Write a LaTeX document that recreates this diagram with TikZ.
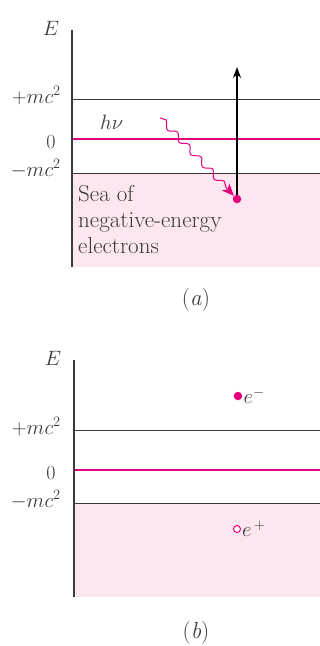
\documentclass[tikz,border=0pt]{standalone}
\usepackage{fontspec}
\usetikzlibrary{arrows.meta,decorations.pathmorphing}
\definecolor{diracInk}{HTML}{3A3A3A}
\definecolor{diracMagenta}{HTML}{E5007D}
\definecolor{diracSeaFill}{HTML}{FCE6EF}
\tikzset{
  diracLevel/.style={draw=diracInk,line width=1pt},
  diracZero/.style={draw=diracMagenta,line width=2.2pt},
  diracSea/.style={fill=diracSeaFill},
  diracAxis/.style={draw=diracInk,line width=1.2pt}
}

\begin{document}
\begin{tikzpicture}[x=1pt,y=-1pt,
  lbl/.style={inner sep=0pt,font=\fontsize{20}{24}\selectfont,text=diracInk},
  elec/.style={circle,fill=diracMagenta,inner sep=0pt,minimum size=8.5pt},
  hole/.style={circle,draw=diracMagenta,fill=white,line width=1pt,inner sep=0pt,minimum size=7pt},
  arrow/.style={-{Stealth[length=11pt,width=8pt]},line width=2pt,draw=black},
  photon/.style={-{Stealth[length=12pt,width=10pt,inset=3pt]},draw=diracMagenta,line width=1pt,
    decorate,decoration={snake,amplitude=3pt,segment length=17pt,post length=10pt}}]
\useasboundingbox (0,0) rectangle (320,646);
% (a) pair creation by a photon
\fill[diracSea] (72,173) rectangle (320,267);
\draw[diracLevel] (72,99) -- (320,99);
\draw[diracZero] (72,139) -- (320,139);
\draw[diracLevel] (72,173) -- (320,173);
\draw[diracAxis] (72,30) -- (72,267);
\node[lbl,anchor=base] (aE) at (51,35) {$E$};
\node[lbl,anchor=base east] (aPlus) at (61,103) {$+mc^2$};
\node[lbl,anchor=base,font=\fontsize{20}{24}\selectfont] (aZero) at (51,148) {0};
\node[lbl,anchor=base east] (aMinus) at (61,176) {$-mc^2$};
\node[lbl,anchor=base west] (aHnu) at (100,129) {$h\nu$};
\node[lbl,anchor=north west,align=left,font=\fontsize{23}{26}\selectfont] (aSea) at (78,185)
  {Sea of\\negative-energy\\electrons};
\node[elec] (aElec) at (237,199) {};
\coordinate (aTip) at (237,67);
\coordinate (aPhotonStart) at (160,118);
\draw[arrow] (aElec) -- (aTip);
\draw[photon] (aPhotonStart) -- (aElec);
\node[lbl,font=\fontsize{23}{26}\selectfont] (aCap) at (196,300) {(\textit{a})};
% (b) electron and hole
\fill[diracSea] (74,503) rectangle (320,597);
\draw[diracLevel] (74,430) -- (320,430);
\draw[diracZero] (74,470) -- (320,470);
\draw[diracLevel] (74,503) -- (320,503);
\draw[diracAxis] (74,360) -- (74,597);
\node[lbl,anchor=base] (bE) at (53,365) {$E$};
\node[lbl,anchor=base east] (bPlus) at (61,434) {$+mc^2$};
\node[lbl,anchor=base,font=\fontsize{20}{24}\selectfont] (bZero) at (51,479) {0};
\node[lbl,anchor=base east] (bMinus) at (61,507) {$-mc^2$};
\node[elec] (bElec) at (238,396) {};
\node[lbl,anchor=west] (bElecLbl) at ([xshift=1pt]bElec.east) {$e^-$};
\node[hole] (bHole) at (237,529) {};
\node[lbl,anchor=west] (bHoleLbl) at ([xshift=1pt]bHole.east) {$e^{\,+}$};
\node[lbl,font=\fontsize{23}{26}\selectfont] (bCap) at (196,633) {(\textit{b})};
\end{tikzpicture}
\end{document}
